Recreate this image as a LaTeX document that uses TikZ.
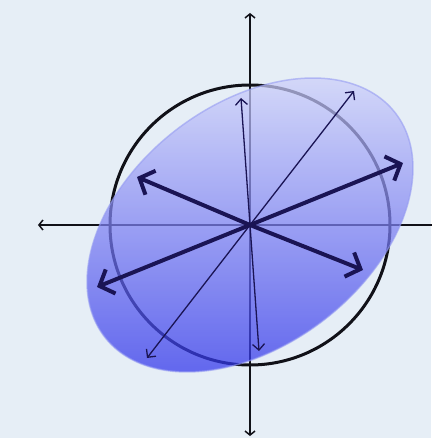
\documentclass[tikz,border=0pt]{standalone}
\usepackage{tikz}
\usetikzlibrary{arrows.meta}
\definecolor{LAbg}{RGB}{230,238,246}
\definecolor{LAink}{RGB}{17,17,24}
\definecolor{LAnavy}{RGB}{26,20,84}
\definecolor{LAtop}{RGB}{204,207,250}
\definecolor{LAbot}{RGB}{48,52,235}
\definecolor{LArim}{RGB}{150,156,242}
\tikzset{
  axisline/.style={line width=1.5pt,draw=LAink,
                   {Straight Barb[length=4pt,width=10pt]}-{Straight Barb[length=4pt,width=10pt]}},
  unitcircle/.style={line width=3pt,draw=LAink},
  imgellipse/.style={top color=LAtop,bottom color=LAbot,fill opacity=0.72,
                     draw=LArim,draw opacity=0.6,line width=1.5pt},
  thinvec/.style={line width=1.3pt,draw=LAnavy,-{Straight Barb[length=6pt,width=12pt]}},
  thickvec/.style={line width=4pt,draw=LAnavy,-{Straight Barb[length=12pt,width=26pt]}}
}

\begin{document}
\begin{tikzpicture}[x=1pt,y=1pt]
  \useasboundingbox[fill=LAbg] (-250,-213) rectangle (181,225);
  \coordinate (o) at (0,0);
  \coordinate (xl) at (-212,0); \coordinate (xr) at (212,0);
  \coordinate (yb) at (0,-211); \coordinate (yt) at (0,212);
  \coordinate (u1) at (-9,127); \coordinate (u2) at (9,-126);
  \coordinate (d1) at (104,134); \coordinate (d2) at (-103,-133);
  \coordinate (e1) at (153,62); \coordinate (e2) at (-153,-62);
  \coordinate (f1) at (-113,48); \coordinate (f2) at (113,-45);
  \draw[axisline] (xl) -- (xr);
  \draw[axisline] (yb) -- (yt);
  \draw[unitcircle] (o) circle (140);
  \path[imgellipse] plot[domain=0:360,samples=120,smooth cycle]
    ({183.5*cos(\x)*0.7934-120.4*sin(\x)*0.6088},{183.5*cos(\x)*0.6088+120.4*sin(\x)*0.7934});
  \draw[thinvec] (o) -- (u1); \draw[thinvec] (o) -- (u2);
  \draw[thinvec] (o) -- (d1); \draw[thinvec] (o) -- (d2);
  \draw[thickvec] (o) -- (e1); \draw[thickvec] (o) -- (e2);
  \draw[thickvec] (o) -- (f1); \draw[thickvec] (o) -- (f2);
\end{tikzpicture}
\end{document}
